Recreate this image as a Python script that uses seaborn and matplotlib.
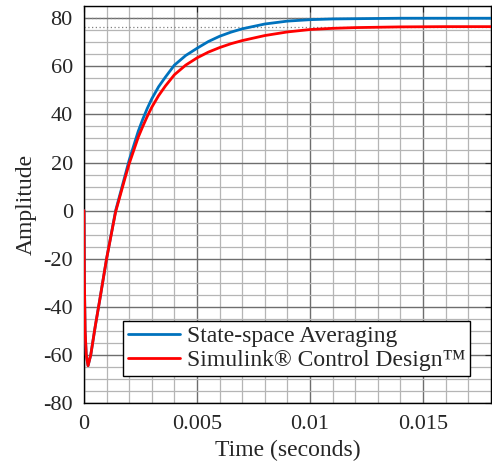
import numpy as np
import pandas as pd
import matplotlib
matplotlib.use("Agg")
import matplotlib.pyplot as plt
from matplotlib.ticker import MultipleLocator
import seaborn as sns

# step response (time in seconds)
time = [0, 0.00002, 0.00005, 0.0001, 0.00018, 0.0003, 0.0005, 0.0007, 0.001,
        0.0014, 0.0018, 0.002, 0.0022, 0.0024, 0.0026, 0.0028, 0.003, 0.0033,
        0.0036, 0.004, 0.0045, 0.005, 0.0055, 0.006, 0.0065, 0.007, 0.008,
        0.009, 0.01, 0.011, 0.012, 0.014, 0.016, 0.018]
state_space = [0, -30, -50, -60, -64.5, -60, -48, -37, -20,
               0, 14, 21, 27, 33, 38, 42.5, 46.5, 51.5,
               55.5, 60.5, 64.5, 67.5, 70.3, 72.5, 74.2, 75.6, 77.6,
               78.8, 79.4, 79.7, 79.8, 80, 80, 80]
simulink = [0, -30, -50, -60, -64.5, -60, -48, -37, -20,
            -0.5, 13, 19.5, 25, 30.5, 35, 39.2, 43, 47.8,
            51.8, 56.5, 60.5, 63.5, 65.9, 67.8, 69.4, 70.7, 72.8,
            74.3, 75.3, 75.8, 76.1, 76.4, 76.5, 76.5]
final_values = [80, 76.5]
labels = ["State-space Averaging", "Simulink® Control Design™"]
colors = ["#0072BD", "#FF0000"]

sns.set_style("white")
plt.rcParams["font.family"] = ["Liberation Serif", "DejaVu Serif"]
plt.rcParams["axes.unicode_minus"] = False

fig = plt.figure(figsize=(4.92, 4.63), dpi=100)
ax = fig.add_axes([0.1707, 0.1296, 0.827, 0.857])

# steady-state reference lines
for v in final_values:
    ax.axhline(v, color="#808080", linestyle=(0, (1, 2)), linewidth=0.9, zorder=2)

for series, lab, col in zip([state_space, simulink], labels, colors):
    df = pd.DataFrame({"t": time, "y": series})
    sns.lineplot(data=df, x="t", y="y", ax=ax, color=col, linewidth=2,
                 label=lab, zorder=3)

ax.set_xlim(0, 0.018)
ax.set_ylim(-80, 85)
ax.xaxis.set_minor_locator(MultipleLocator(0.001))
ax.yaxis.set_major_locator(MultipleLocator(20))
ax.yaxis.set_minor_locator(MultipleLocator(5))
ax.set_xticks([0, 0.005, 0.01, 0.015])
ax.set_xticklabels(["0", "0.005", "0.01", "0.015"])

ax.grid(which="major", color="#6e6e6e", linewidth=1.0)
ax.grid(which="minor", color="#b5b5b5", linewidth=0.9)
ax.set_axisbelow(True)

ax.tick_params(which="both", direction="in", labelsize=16, length=4,
               top=True, right=True)
ax.tick_params(axis="x", pad=9)
ax.tick_params(axis="y", pad=8)
ax.tick_params(which="minor", length=0)
for s in ax.spines.values():
    s.set_color("black")
    s.set_linewidth(1.0)

ax.set_xlabel("Time (seconds)", fontsize=17, labelpad=4)
ax.set_ylabel("Amplitude", fontsize=17, labelpad=5)

leg = ax.legend(loc="lower left", bbox_to_anchor=(0.096, 0.068),
                fontsize=17, frameon=True, fancybox=False, shadow=False,
                handlelength=2.2, handletextpad=0.3, borderpad=0.2,
                labelspacing=0.1, borderaxespad=0)
leg.get_frame().set_edgecolor("black")
leg.get_frame().set_linewidth(1.0)
leg.get_frame().set_alpha(1)

fig.savefig("out.png", dpi=100)
